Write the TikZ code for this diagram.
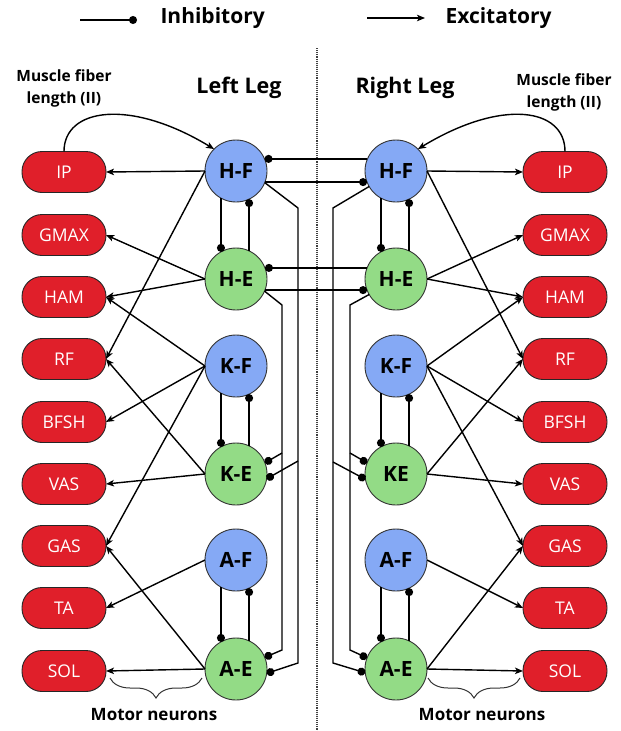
\documentclass[tikz,border=0pt]{standalone}
\usepackage{fontspec}
\setmainfont{Open Sans}
\usetikzlibrary{arrows.meta,decorations.pathreplacing}
\definecolor{flexblue}{HTML}{85A9F5}
\definecolor{extgreen}{HTML}{93DB86}
\definecolor{musclered}{HTML}{E01F2A}
\begin{document}
\begin{tikzpicture}[x=1pt,y=-1pt,
  neuron/.style={circle,draw=black!80,line width=0.9pt,minimum size=62pt,inner sep=0pt,outer sep=0pt,
    font=\fontsize{21}{24}\selectfont\bfseries},
  flexor/.style={neuron,fill=flexblue},
  extensor/.style={neuron,fill=extgreen},
  muscle/.style={rectangle,rounded corners=20pt,draw=black!85,line width=0.9pt,fill=musclered,
    minimum width=84pt,minimum height=41pt,inner sep=0pt,outer sep=0pt,text=white,
    font=\fontsize{17.5}{20}\selectfont},
  exc/.style={line width=1.4pt,-{Stealth[length=8pt,width=6.5pt,inset=2pt]}},
  inh/.style={line width=1.4pt,-{Circle[length=8pt]}},
  headtext/.style={font=\fontsize{21.5}{24}\selectfont\bfseries},
  legendtext/.style={font=\fontsize{21}{24}\selectfont\bfseries,anchor=west},
  sensetext/.style={font=\fontsize{15.5}{22}\selectfont\bfseries,align=center},
  motortext/.style={font=\fontsize{17}{20}\selectfont\bfseries},
  bracestyle/.style={decorate,decoration={brace,mirror,amplitude=20pt},line width=1pt,black!80},
]
\useasboundingbox (0,0) rectangle (621,731);

% legend
\coordinate (inhA) at (80,20);
\coordinate (inhB) at (137,20);
\coordinate (excA) at (367,18);
\coordinate (excB) at (425,18);
\draw[inh] (inhA) -- (inhB);
\draw[exc] (excA) -- (excB);
\node[legendtext] (inhT) at (157,18) {Inhibitory};
\node[legendtext] (excT) at (442,18) {Excitatory};

% divider between the two legs
\coordinate (divTop) at (317,48);
\coordinate (divBot) at (317,731);
\draw[densely dotted,line width=1.1pt,black!75] (divTop) -- (divBot);

% headings
\node[headtext] (leftH) at (239,88) {Left Leg};
\node[headtext] (rightH) at (405,88) {Right Leg};
\node[sensetext] (lsense) at (64,88) {Muscle fiber\\length (II)};
\node[sensetext] (rsense) at (564,92) {Muscle fiber\\length (II)};

% interneurons, left leg
\node[flexor]   (lhf) at (236,171) {H-F};
\node[extensor] (lhe) at (236,279) {H-E};
\node[flexor]   (lkf) at (236,366) {K-F};
\node[extensor] (lke) at (236,474) {K-E};
\node[flexor]   (laf) at (236,560) {A-F};
\node[extensor] (lae) at (236,669) {A-E};

% interneurons, right leg
\node[flexor]   (rhf) at (396,171) {H-F};
\node[extensor] (rhe) at (396,279) {H-E};
\node[flexor]   (rkf) at (396,366) {K-F};
\node[extensor] (rke) at (396,474) {KE};
\node[flexor]   (raf) at (396,560) {A-F};
\node[extensor] (rae) at (396,669) {A-E};

% muscles, left leg
\node[muscle] (lip)   at (64,172) {IP};
\node[muscle] (lgmax) at (64,235) {GMAX};
\node[muscle] (lham)  at (64,297) {HAM};
\node[muscle] (lrf)   at (64,359) {RF};
\node[muscle] (lbfsh) at (64,422) {BFSH};
\node[muscle] (lvas)  at (64,484) {VAS};
\node[muscle] (lgas)  at (64,546) {GAS};
\node[muscle] (lta)   at (64,608) {TA};
\node[muscle] (lsol)  at (64,671) {SOL};

% muscles, right leg
\node[muscle] (rip)   at (565,172) {IP};
\node[muscle] (rgmax) at (565,235) {GMAX};
\node[muscle] (rham)  at (565,297) {HAM};
\node[muscle] (rrf)   at (565,359) {RF};
\node[muscle] (rbfsh) at (565,422) {BFSH};
\node[muscle] (rvas)  at (565,484) {VAS};
\node[muscle] (rgas)  at (565,546) {GAS};
\node[muscle] (rta)   at (565,608) {TA};
\node[muscle] (rsol)  at (565,671) {SOL};

% sensory feedback loops
\draw[exc] (lip.north) .. controls (64,108) and (130,98) .. (lhf.135);
\draw[exc] (rip.north) .. controls (565,108) and (502,98) .. (rhf.45);

% excitatory drive to motor neurons, left leg
\draw[exc] (lhf.west) -- (lip.east);
\draw[exc] (lhf.west) -- (lrf.east);
\draw[exc] (lhe.west) -- (lgmax.east);
\draw[exc] (lhe.west) -- (lham.east);
\draw[exc] (lkf.west) -- (lham.east);
\draw[exc] (lkf.west) -- (lbfsh.east);
\draw[exc] (lkf.west) -- (lgas.east);
\draw[exc] (lke.west) -- (lrf.east);
\draw[exc] (lke.west) -- (lvas.east);
\draw[exc] (laf.west) -- (lta.east);
\draw[exc] (lae.west) -- (lgas.east);
\draw[exc] (lae.west) -- (lsol.east);

% excitatory drive to motor neurons, right leg
\draw[exc] (rhf.east) -- (rip.west);
\draw[exc] (rhf.east) -- (rrf.west);
\draw[exc] (rhe.east) -- (rgmax.west);
\draw[exc] (rhe.east) -- (rham.west);
\draw[exc] (rkf.east) -- (rham.west);
\draw[exc] (rkf.east) -- (rbfsh.west);
\draw[exc] (rkf.east) -- (rgas.west);
\draw[exc] (rke.east) -- (rrf.west);
\draw[exc] (rke.east) -- (rvas.west);
\draw[exc] (raf.east) -- (rta.west);
\draw[exc] (rae.east) -- (rgas.west);
\draw[exc] (rae.east) -- (rsol.west);

% mutual inhibition within each joint
\foreach \up/\dn in {lhf/lhe,lkf/lke,laf/lae,rhf/rhe,rkf/rke,raf/rae}{
  \draw[inh] (\up.-119) -- (\dn.119);
  \draw[inh] (\dn.65) -- (\up.-65);
}

% hip coupling between legs
\draw[inh] (rhf.157) -- (lhf.23);
\draw[inh] (lhf.-21) -- (rhf.-159);
\draw[inh] (rhe.159) -- (lhe.21);
\draw[inh] (lhe.-21) -- (rhe.-159);

% hip to knee/ankle extensor inhibition, left leg
\draw[inh] (lhf.-22) -- (298,208) -- (298,663) -- (lae.-8);
\draw[inh] (lhe.-23) -- (282,305) -- (282,650) -- (lae.22);
\draw[inh] (298,461) -- (lke.-9);
\draw[inh] (282,453) -- (lke.21);

% hip to knee/ankle extensor inhibition, right leg
\draw[inh] (rhf.-150) -- (333,208) -- (333,663) -- (rae.-173);
\draw[inh] (rhe.-150) -- (350,305) -- (350,650) -- (rae.159);
\draw[inh] (333,462) -- (rke.-170);
\draw[inh] (350,453) -- (rke.159);

% motor neuron braces
\coordinate (lbA) at (110,678);
\coordinate (lbB) at (202,678);
\coordinate (rbA) at (428,678);
\coordinate (rbB) at (520,678);
\draw[bracestyle] (lbA) -- (lbB);
\draw[bracestyle] (rbA) -- (rbB);
\node[motortext] (lmotor) at (154,715) {Motor neurons};
\node[motortext] (rmotor) at (482,715) {Motor neurons};
\end{tikzpicture}
\end{document}
